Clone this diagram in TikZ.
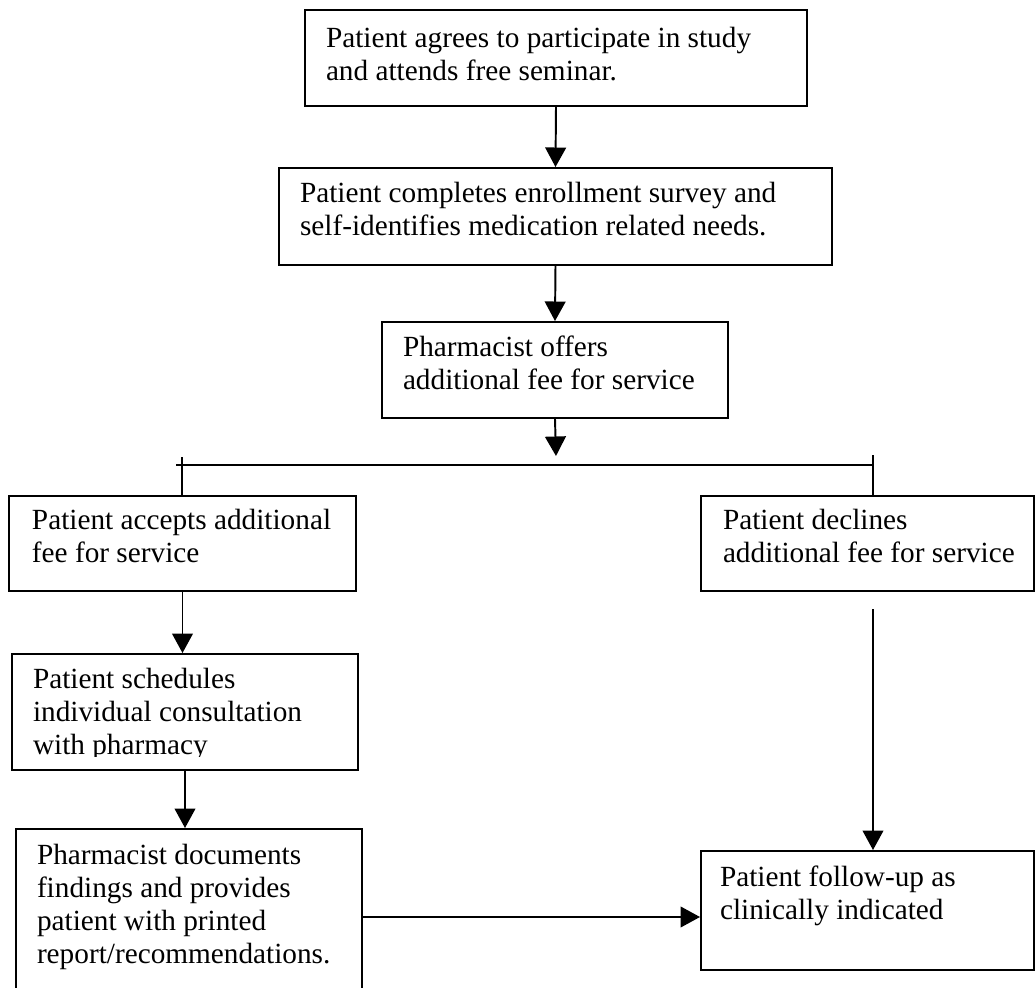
\documentclass[tikz,border=0pt]{standalone}
\usepackage{fontspec}
\setmainfont{Liberation Serif}
\usetikzlibrary{arrows.meta,fit}
\begin{document}
\begin{tikzpicture}[x=0.41pt,y=-0.41pt,line width=0.8pt,
	>={Triangle[width=8.5pt,length=8pt]},
	box/.style={draw,rectangle,inner sep=0pt},
	txt/.style={anchor=north west,inner sep=0pt,align=left,font=\fontsize{12}{13.5}\selectfont}]
	\useasboundingbox (0,0) rectangle (1036,988);
	% boxes
	\node[box,fit={(305,10) (807,106)}] (agree) {};
	\node[box,fit={(279,168) (832,265)}] (enrol) {};
	\node[box,fit={(382,322) (728,418)}] (offer) {};
	\node[box,fit={(9,496) (356,591)}] (accept) {};
	\node[box,fit={(701,496) (1034,591)}] (decline) {};
	\node[box,fit={(12,654) (358,770)}] (sched) {};
	\node[box,fit={(16,829) (362,1010)}] (docs) {};
	\node[box,fit={(701,851) (1034,970)}] (follow) {};
	% texts
	\node[txt] (agreetxt) at ([shift={(21,17)}]agree.north west) {Patient agrees to participate in study\\and attends free seminar.};
	\node[txt] (enroltxt) at ([shift={(21,14)}]enrol.north west) {Patient completes enrollment survey and\\self-identifies medication related needs.};
	\node[txt] (offertxt) at ([shift={(21,14)}]offer.north west) {Pharmacist offers\\additional fee for service};
	\node[txt] (accepttxt) at ([shift={(23,13)}]accept.north west) {Patient accepts additional\\fee for service};
	\node[txt] (declinetxt) at ([shift={(22,13)}]decline.north west) {Patient declines\\additional fee for service};
	\begin{scope}
		\clip (0,600) rectangle (400,756);
		\node[txt] (schedtxt) at ([shift={(21,14)}]sched.north west) {Patient schedules\\individual consultation\\with pharmacy};
	\end{scope}
	\node[txt] (docstxt) at ([shift={(21,15)}]docs.north west) {Pharmacist documents\\findings and provides\\patient with printed\\report/recommendations.};
	\node[txt] (followtxt) at ([shift={(19,15)}]follow.north west) {Patient follow-up as\\clinically indicated};
	% connectors
	\coordinate (split) at (556,456);
	\coordinate (hl) at (176,465);
	\coordinate (hr) at (873,465);
	\coordinate (tl) at (182,457);
	\coordinate (tr) at (873,455);
	\coordinate (dstart) at (873,609);
	\coordinate (hstart) at (362,917);
	\draw[->] (agree.south) -- (enrol.north);
	\draw[->] (enrol.south) -- (offer.north);
	\draw[->] (offer.south) -- (split);
	\draw (hl) -- (hr);
	\draw (tl) -- (tl |- accept.north);
	\draw (tr) -- (tr |- decline.north);
	\draw[->] (accept.south) -- (accept.south |- sched.north);
	\draw[->] (sched.south) -- (sched.south |- docs.north);
	\draw[->] (dstart) -- (dstart |- follow.north);
	\draw[->] (hstart) -- (hstart -| follow.west);
\end{tikzpicture}
\end{document}
